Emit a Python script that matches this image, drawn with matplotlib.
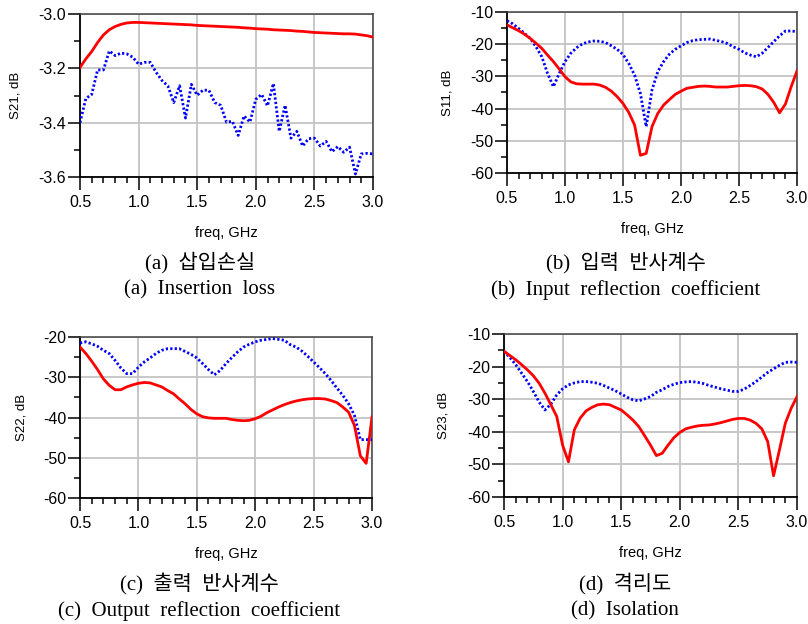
import matplotlib
matplotlib.use("Agg")
import matplotlib.pyplot as plt
from matplotlib.ticker import MultipleLocator, FormatStrFormatter

plt.rcParams['axes.unicode_minus'] = False

freq = [0.50, 0.55, 0.60, 0.65, 0.70, 0.75, 0.80, 0.85, 0.90, 0.95,
        1.00, 1.05, 1.10, 1.15, 1.20, 1.25, 1.30, 1.35, 1.40, 1.45,
        1.50, 1.55, 1.60, 1.65, 1.70, 1.75, 1.80, 1.85, 1.90, 1.95,
        2.00, 2.05, 2.10, 2.15, 2.20, 2.25, 2.30, 2.35, 2.40, 2.45,
        2.50, 2.55, 2.60, 2.65, 2.70, 2.75, 2.80, 2.85, 2.90, 2.95, 3.00]

# (a) S21 insertion loss
s21_red = [-3.197, -3.165, -3.138, -3.105, -3.077, -3.058, -3.046, -3.038, -3.033, -3.031,
           -3.031, -3.032, -3.033, -3.034, -3.035, -3.036, -3.037, -3.038, -3.039, -3.040,
           -3.042, -3.043, -3.044, -3.045, -3.046, -3.047, -3.048, -3.049, -3.051, -3.052,
           -3.054, -3.055, -3.056, -3.058, -3.059, -3.060, -3.061, -3.063, -3.064, -3.066,
           -3.068, -3.069, -3.070, -3.071, -3.072, -3.073, -3.073, -3.074, -3.077, -3.080, -3.085]
s21_blue = [-3.400, -3.311, -3.296, -3.206, -3.206, -3.136, -3.153, -3.144, -3.147, -3.159,
            -3.185, -3.178, -3.178, -3.215, -3.245, -3.265, -3.326, -3.264, -3.383, -3.259,
            -3.299, -3.280, -3.281, -3.326, -3.336, -3.398, -3.395, -3.447, -3.375, -3.398,
            -3.314, -3.296, -3.338, -3.256, -3.432, -3.336, -3.457, -3.432, -3.486, -3.459,
            -3.457, -3.486, -3.469, -3.507, -3.488, -3.509, -3.490, -3.589, -3.515, -3.513, -3.515]

# (b) S11 input reflection
s11_red = [-14.0, -14.9, -15.8, -16.9, -18.2, -19.7, -21.3, -23.4, -25.4, -27.7,
           -30.1, -31.7, -32.3, -32.4, -32.4, -32.4, -32.7, -33.4, -34.6, -36.3,
           -38.4, -41.2, -45.1, -54.5, -53.9, -45.6, -41.5, -38.9, -37.2, -35.6,
           -34.6, -33.7, -33.4, -33.1, -33.0, -33.1, -33.3, -33.3, -33.3, -33.1,
           -32.9, -32.8, -32.9, -33.2, -33.9, -35.6, -38.1, -41.3, -38.6, -33.2, -28.3]
s11_blue = [-12.7, -13.7, -15.1, -16.6, -18.2, -20.8, -23.9, -29.1, -33.2, -29.1,
            -25.4, -22.8, -21.1, -19.9, -19.3, -19.0, -19.1, -19.5, -20.5, -21.6,
            -23.2, -26.0, -29.6, -35.3, -45.6, -34.2, -28.5, -25.4, -23.1, -21.6,
            -20.5, -19.5, -18.9, -18.6, -18.5, -18.4, -18.8, -19.2, -19.8, -20.8,
            -21.6, -22.7, -23.4, -23.9, -22.8, -21.0, -19.2, -17.4, -15.9, -15.9, -16.1]

# (c) S22 output reflection
s22_red = [-22.5, -24.1, -26.0, -28.1, -30.4, -32.0, -33.1, -33.1, -32.4, -31.9,
           -31.5, -31.3, -31.4, -31.9, -32.4, -33.3, -34.1, -35.4, -36.6, -38.0,
           -39.1, -39.8, -40.1, -40.2, -40.2, -40.2, -40.5, -40.7, -40.8, -40.7,
           -40.3, -39.7, -38.8, -38.1, -37.4, -36.8, -36.3, -35.9, -35.6, -35.4,
           -35.3, -35.3, -35.4, -35.8, -36.3, -37.4, -38.7, -42.0, -49.5, -51.4, -39.9]
s22_blue = [-21.5, -21.2, -21.7, -22.3, -23.3, -24.1, -25.8, -27.7, -29.1, -29.1,
            -27.5, -26.2, -25.2, -24.1, -23.3, -22.9, -22.9, -22.9, -23.6, -24.3,
            -25.2, -26.6, -28.1, -29.4, -28.3, -26.6, -25.1, -23.7, -22.5, -21.8,
            -21.2, -20.8, -20.6, -20.4, -20.6, -20.8, -21.9, -22.5, -23.5, -24.8,
            -26.2, -27.6, -29.1, -30.8, -32.7, -34.5, -36.6, -39.5, -45.5, -45.5, -45.5]

# (d) S23 isolation
s23_red = [-15.3, -16.6, -17.9, -19.4, -21.0, -22.8, -25.1, -28.2, -31.7, -35.3,
           -44.1, -49.2, -39.4, -35.8, -33.6, -32.5, -31.7, -31.5, -31.7, -32.5,
           -33.3, -34.8, -36.4, -38.4, -41.2, -44.1, -47.3, -46.6, -44.1, -41.8,
           -40.2, -39.1, -38.6, -38.2, -38.0, -37.9, -37.6, -37.2, -36.7, -36.2,
           -35.9, -35.9, -36.4, -37.4, -39.1, -43.0, -53.5, -45.6, -37.4, -32.8, -29.2]
s23_blue = [-15.3, -17.2, -19.4, -22.0, -24.6, -27.6, -30.9, -33.3, -31.5, -28.7,
            -26.8, -25.6, -25.0, -24.6, -24.6, -24.8, -25.1, -25.8, -26.6, -27.4,
            -28.4, -29.4, -30.2, -30.5, -29.9, -29.2, -27.9, -27.1, -26.1, -25.4,
            -24.9, -24.7, -24.6, -24.8, -25.2, -25.8, -26.3, -26.8, -27.2, -27.6,
            -27.6, -26.9, -25.8, -24.6, -23.2, -21.8, -20.7, -19.6, -18.7, -18.6, -18.7]

ylabels = ["S21, dB", "S11, dB", "S22, dB", "S23, dB"]
caption_kr = ["(a)  삽입손실", "(b)  입력  반사계수", "(c)  출력  반사계수", "(d)  격리도"]
caption_en = ["(a)  Insertion  loss", "(b)  Input  reflection  coefficient",
              "(c)  Output  reflection  coefficient", "(d)  Isolation"]

W, H = 808, 624
fig = plt.figure(figsize=(W / 100, H / 100), dpi=100)

# pixel boxes: left, right, top, bottom
boxes = [(80, 373, 14, 177), (507, 797, 12, 173), (80, 372, 337, 498), (504, 797, 334, 497)]
ylims = [(-3.6, -3.0), (-60, -10), (-60, -20), (-60, -10)]
ymaj = [0.2, 10, 10, 10]
yfmt = ["%.1f", "%d", "%d", "%d"]
ylab_off = [64, 59, 58, 61]
series = [(s21_red, s21_blue), (s11_red, s11_blue), (s22_red, s22_blue), (s23_red, s23_blue)]

for i in range(4):
    l, r, t, b = boxes[i]
    ax = fig.add_axes([l / W, 1 - b / H, (r - l) / W, (b - t) / H])
    red, blue = series[i]
    ax.plot(freq, blue, color='#0000ff', lw=2.0, linestyle=(0, (0.8, 0.8)), zorder=3)
    ax.plot(freq, red, color='#ff0000', lw=2.0, zorder=4)
    ax.set_xlim(0.5, 3.0)
    ax.set_ylim(*ylims[i])
    ax.xaxis.set_major_locator(MultipleLocator(0.5))
    ax.xaxis.set_minor_locator(MultipleLocator(0.1))
    ax.xaxis.set_major_formatter(FormatStrFormatter("%.1f"))
    ax.yaxis.set_major_locator(MultipleLocator(ymaj[i]))
    ax.yaxis.set_minor_locator(MultipleLocator(ymaj[i] / 2))
    ax.yaxis.set_major_formatter(FormatStrFormatter(yfmt[i]))
    ax.grid(True, which='major', color='#c4c4c4', lw=1.3, zorder=1)
    ax.set_axisbelow(True)
    ax.tick_params(axis='x', which='major', direction='out', length=9, width=1.1,
                   pad=4, labelsize=11.5, color='black')
    ax.tick_params(axis='x', which='minor', direction='out', length=4.5, width=1.1, color='black')
    ax.tick_params(axis='y', which='major', direction='out', length=9, width=1.1,
                   pad=1, labelsize=11.5, color='black')
    ax.tick_params(axis='y', which='minor', direction='out', length=4, width=1.1, color='black')
    for lab in ax.get_xticklabels() + ax.get_yticklabels():
        lab.set_fontfamily('Liberation Sans')
    for side in ['left', 'bottom']:
        ax.spines[side].set_color('black')
        ax.spines[side].set_linewidth(1.3)
    for side in ['top', 'right']:
        ax.spines[side].set_color('#404040')
        ax.spines[side].set_linewidth(1.1)
    ax.set_xlabel("freq, GHz", fontfamily='Liberation Sans', fontsize=10.5)
    ax.xaxis.label.set_va('center')
    ax.xaxis.set_label_coords(0.5, -56 / (b - t))
    ax.set_ylabel(ylabels[i], fontfamily='Liberation Sans', fontsize=9.5)
    ax.yaxis.label.set_va('center')
    ax.yaxis.set_label_coords(-ylab_off[i] / (r - l), 0.5)

cap_x = [200, 626, 199, 625]
cap_y_kr = [263, 263, 584, 584]
cap_y_en = [290, 290, 611, 611]
cap_fam = ['Liberation Serif', 'Noto Sans CJK KR']
for i in range(4):
    fig.text(cap_x[i] / W, 1 - cap_y_kr[i] / H, caption_kr[i], ha='center', va='center',
             family=cap_fam, fontsize=15)
    fig.text(cap_x[i] / W, 1 - cap_y_en[i] / H, caption_en[i], ha='center', va='center',
             family=cap_fam, fontsize=15)

fig.savefig("out.png", dpi=100)
